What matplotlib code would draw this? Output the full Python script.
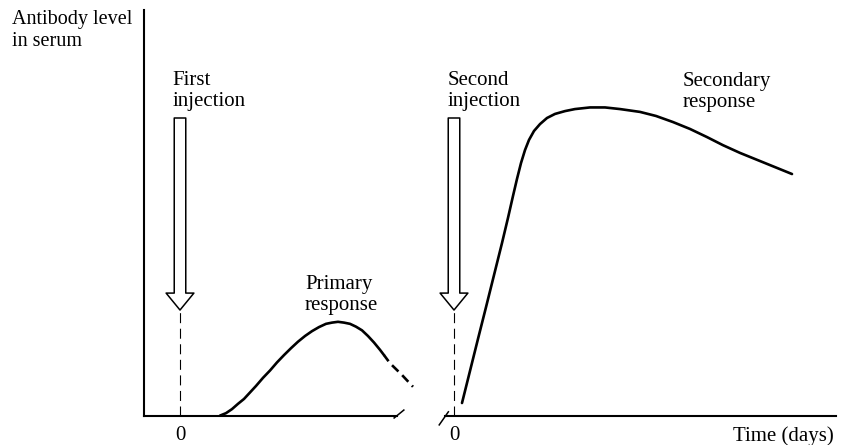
import matplotlib
matplotlib.use("Agg")
import matplotlib.pyplot as plt
from matplotlib.patches import ArrowStyle

plt.rcParams['font.family'] = ['Liberation Serif', 'DejaVu Serif']

# ---- data (schematic: days after injection vs. antibody level) ----
primary_days = [4.0, 4.6, 5.2, 5.8, 6.4, 7.0, 7.6, 8.3, 9.0, 9.7, 10.4, 11.1, 11.8, 12.5,
                13.2, 13.9, 14.6, 15.2, 15.8, 16.4, 17.0, 17.6, 18.2, 18.8, 19.4, 20.0, 20.4]
primary_level = [0.1, 0.7, 1.7, 3.0, 4.2, 5.8, 7.4, 9.4, 11.2, 13.2, 15.0, 16.7, 18.3, 19.7,
                 20.9, 21.9, 22.7, 23.0, 23.2, 23.0, 22.7, 22.0, 21.1, 19.7, 18.1, 16.3, 15.0]
primary_tail_days = [20.4, 21.0, 22.2, 23.3]
primary_tail_level = [15.0, 13.0, 10.1, 7.2]

secondary_days = [0.8, 1.6, 2.4, 3.2, 4.0, 4.8, 5.4, 5.9, 6.3, 6.7, 7.1, 7.5, 8.0, 8.6, 9.3, 10.1,
                  11.1, 12.1, 13.6, 15.1, 16.6, 18.6, 20.2, 21.9, 23.6, 25.3, 26.9, 28.6, 30.3, 32.1, 33.8]
secondary_level = [3.2, 11.1, 19.0, 26.8, 34.7, 42.6, 48.8, 54.2, 58.4, 62.3, 65.5, 68.0, 70.2, 71.9,
                   73.4, 74.4, 75.1, 75.6, 76.0, 76.0, 75.6, 74.9, 73.9, 72.4, 70.7, 68.7, 66.7, 64.8,
                   63.1, 61.3, 59.6]

injection_day = 0
arrow_top_level = 73.4
arrow_tip_level = 26.1
tick_labels = ["0"]

FS = 15
BLACK = "black"

fig = plt.figure(figsize=(8.47, 4.45), dpi=100)
ax1 = fig.add_axes([144 / 847, 29 / 445, 253 / 847, 406 / 445])
ax2 = fig.add_axes([445 / 847, 29 / 445, 391 / 847, 406 / 445])

ax1.set_xlim(-3.6, 21.7)
ax2.set_xlim(-0.9, 38.2)
for ax in (ax1, ax2):
    ax.set_ylim(0, 100)
    ax.set_yticks([])
    ax.set_xticks([injection_day])
    ax.set_xticklabels(tick_labels, fontsize=FS)
    ax.tick_params(axis='x', length=0, pad=7.5)
    ax.spines['top'].set_visible(False)
    ax.spines['right'].set_visible(False)
    ax.spines['bottom'].set_linewidth(1.5)
    ax.spines['left'].set_linewidth(1.5)
    ax.patch.set_visible(False)
ax2.spines['left'].set_visible(False)

# curves
ax1.plot(primary_days, primary_level, color=BLACK, lw=1.9, solid_capstyle='round',
         solid_joinstyle='round', clip_on=False)
ax1.plot(primary_tail_days, primary_tail_level, color=BLACK, lw=1.9, linestyle=(0.5, (3.4, 2.0)), clip_on=False)
ax2.plot(secondary_days, secondary_level, color=BLACK, lw=1.9, solid_capstyle='round',
         solid_joinstyle='round', clip_on=False)

# injection arrows + dashed guide lines
arrow_style = ArrowStyle.Simple(head_length=12.2, head_width=20, tail_width=8.3)
for ax in (ax1, ax2):
    ax.annotate('', xy=(injection_day, arrow_tip_level), xytext=(injection_day, arrow_top_level),
                arrowprops=dict(arrowstyle=arrow_style, mutation_scale=1, shrinkA=0, shrinkB=0,
                                fc='white', ec=BLACK, lw=1.1))
    ax.plot([injection_day, injection_day], [0, arrow_tip_level], color=BLACK, lw=0.8,
            linestyle=(0, (9, 5)), clip_on=False)

# axis break marks
ax1.plot([1], [0], transform=ax1.transAxes, marker=[(-4, -2), (7, 7)], markersize=10,
         markeredgewidth=1.1, color=BLACK, clip_on=False, linestyle='none')
ax2.plot([0], [0], transform=ax2.transAxes, marker=[(-6.7, -9), (3.3, 5.3)], markersize=13,
         markeredgewidth=1.1, color=BLACK, clip_on=False, linestyle='none')

# labels (va='baseline' anchors the last line of multi-line text)
fig.text(11.7 / 847, (445 - 46) / 445, "Antibody level\nin serum", fontsize=14.5,
         ha='left', va='baseline', linespacing=1.2)
ax1.text(-0.73, 76.4, "First\ninjection", fontsize=FS, ha='left', va='baseline', linespacing=1.15)
ax2.text(-0.67, 76.4, "Second\ninjection", fontsize=FS, ha='left', va='baseline', linespacing=1.15)
ax1.text(12.5, 26.1, "Primary\nresponse", fontsize=FS, ha='left', va='baseline', linespacing=1.15)
ax2.text(22.87, 76.2, "Secondary\nresponse", fontsize=FS, ha='left', va='baseline', linespacing=1.15)
ax2.annotate("Time (days)", xy=(1, 0), xycoords='axes fraction', xytext=(-1.5, -7.5),
             textcoords='offset points', ha='right', va='top', fontsize=FS)

fig.savefig("out.png", dpi=100)
